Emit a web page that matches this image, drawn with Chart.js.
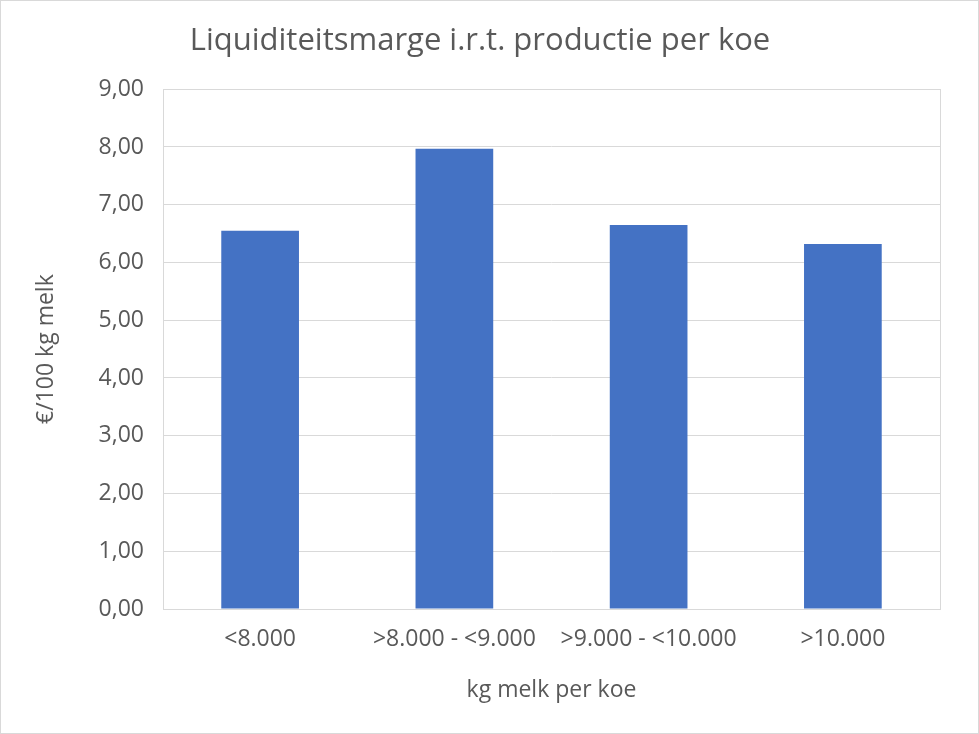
<!DOCTYPE html>
<html>
<head>
<meta charset="utf-8">
<script src="https://cdn.jsdelivr.net/npm/chart.js@4"></script>
<style>
  html, body { margin: 0; padding: 0; background: #fff; }
  #wrap { width: 979px; height: 734px; }
</style>
</head>
<body>
<div id="wrap"><canvas id="chart" width="979" height="734"></canvas></div>
<script>
const categories = ["<8.000", ">8.000 - <9.000", ">9.000 - <10.000", ">10.000"];
const marge = [6.55, 7.97, 6.65, 6.32];
const yMin = 0, yMax = 9, yStep = 1;

const FONT = "'Open Sans', 'Noto Sans', sans-serif";
const GREY = "#595959";

const frame = {
  id: "frame",
  afterDraw(chart) {
    const { ctx, chartArea: a } = chart;
    ctx.save();
    ctx.strokeStyle = "#d9d9d9";
    ctx.lineWidth = 1;
    ctx.strokeRect(Math.round(a.left) + 0.5, Math.round(a.top) + 0.5,
      Math.round(a.right - a.left), Math.round(a.bottom - a.top));
    ctx.strokeRect(0.5, 0.5, chart.width - 1, chart.height - 1);
    ctx.restore();
  }
};

new Chart(document.getElementById("chart"), {
  type: "bar",
  data: {
    labels: categories,
    datasets: [{
      data: marge,
      backgroundColor: "#4472c4",
      borderColor: "#4472c4",
      borderWidth: 0,
      categoryPercentage: 1,
      barPercentage: 0.4
    }]
  },
  options: {
    responsive: false,
    animation: false,
    devicePixelRatio: 1,
    layout: { padding: { left: 20, right: 39, top: 0, bottom: 0 } },
    plugins: {
      legend: { display: false },
      tooltip: { enabled: false },
      title: {
        display: true,
        text: "Liquiditeitsmarge i.r.t. productie per koe",
        color: GREY,
        font: { family: FONT, size: 31, weight: "normal" },
        padding: { top: 23, bottom: 29 }
      }
    },
    scales: {
      x: {
        grid: { display: false, drawTicks: false },
        border: { display: true, color: "#bfbfbf" },
        ticks: { color: GREY, font: { family: FONT, size: 23 }, padding: 17, maxRotation: 0 },
        title: {
          display: true, text: "kg melk per koe", color: GREY,
          font: { family: FONT, size: 23 }, padding: { top: 0, bottom: 30 }
        },
        afterFit: s => { s.height = 125; }
      },
      y: {
        min: yMin, max: yMax,
        grid: { color: "#d9d9d9", drawTicks: false },
        border: { display: false },
        ticks: {
          stepSize: yStep, color: GREY, padding: 19,
          font: { family: FONT, size: 23 },
          callback: v => v.toFixed(2).replace(".", ",")
        },
        title: {
          display: true, text: "€/100 kg melk", color: GREY,
          font: { family: FONT, size: 23 }, padding: { top: 13, bottom: 0 }
        },
        afterFit: s => { s.width = 143; }
      }
    }
  },
  plugins: [frame]
});
</script>
</body>
</html>
